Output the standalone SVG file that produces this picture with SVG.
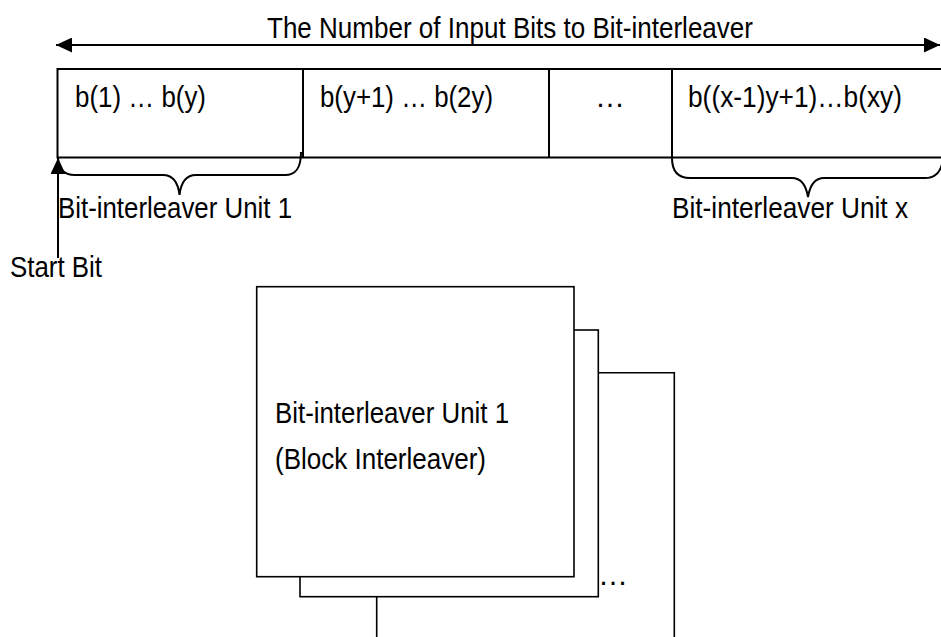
<svg xmlns="http://www.w3.org/2000/svg" width="941" height="637" viewBox="0 0 941 637">
<style>
text{font-family:"Liberation Sans",Arial,sans-serif;font-size:30px;fill:#000}
.ln{fill:none;stroke:#000;stroke-width:2}
.bx{fill:#fff;stroke:#000;stroke-width:1.6}
</style>
<defs>
<marker id="ah" viewBox="0 0 16 15" refX="16" refY="7.5" markerWidth="16" markerHeight="15" markerUnits="userSpaceOnUse" orient="auto-start-reverse">
<path d="M0,0 L16,7.5 L0,15 Z" fill="#000"/>
</marker>
</defs>
<rect width="941" height="637" fill="#fff"/>
<g id="title">
<text x="267" y="38" textLength="486" lengthAdjust="spacingAndGlyphs">The Number of Input Bits to Bit-interleaver</text>
</g>
<g id="strip">
<path class="ln" d="M945,69 L57.5,69 L57.5,157.5 L945,157.5"/>
<path class="ln" d="M303,69 V157.5 M549,69 V157.5 M672,69 V157.5"/>
<text x="75" y="107" textLength="131" lengthAdjust="spacingAndGlyphs">b(1) … b(y)</text>
<text x="320" y="107" textLength="173" lengthAdjust="spacingAndGlyphs">b(y+1) … b(2y)</text>
<text x="595" y="107">…</text>
<text x="688" y="107" textLength="214" lengthAdjust="spacingAndGlyphs">b((x-1)y+1)…b(xy)</text>
</g>
<g id="brace1">
<path class="ln" d="M58,157 C58,170 64,175 75,175 L163,175 C172,175 178,182 179.5,195 C181,182 187,175 196,175 L285,175 C296,175 301,168 301,152"/>
<text x="58" y="218" textLength="234" lengthAdjust="spacingAndGlyphs">Bit-interleaver Unit 1</text>
</g>
<g id="bracex">
<path class="ln" d="M672,158 C672,172 678,178 690,178 L792,178 C801,178 806,185 808,197 C810,185 815,178 824,178 L925,178 C935,178 940,172 942,164"/>
<text x="672" y="218" textLength="236" lengthAdjust="spacingAndGlyphs">Bit-interleaver Unit x</text>
</g>
<g id="startbit">
<text x="10" y="277" textLength="92" lengthAdjust="spacingAndGlyphs">Start Bit</text>
</g>
<g id="unit3">
<path class="bx" d="M376.7,650 V372.7 H674.3 V650"/>
</g>
<g id="unit2">
<rect class="bx" x="300" y="330" width="298.3" height="266.7"/>
<text x="598" y="585">…</text>
</g>
<g id="unit1">
<rect class="bx" x="256.7" y="286.7" width="317.3" height="290"/>
<text x="275" y="423" textLength="234" lengthAdjust="spacingAndGlyphs">Bit-interleaver Unit 1</text>
<text x="275" y="469" textLength="211" lengthAdjust="spacingAndGlyphs">(Block Interleaver)</text>
</g>
<g id="connectors">
<line class="ln" x1="56" y1="45" x2="940" y2="45" marker-start="url(#ah)" marker-end="url(#ah)"/>
<line class="ln" x1="58" y1="258" x2="58" y2="158" marker-end="url(#ah)"/>
</g>
</svg>
